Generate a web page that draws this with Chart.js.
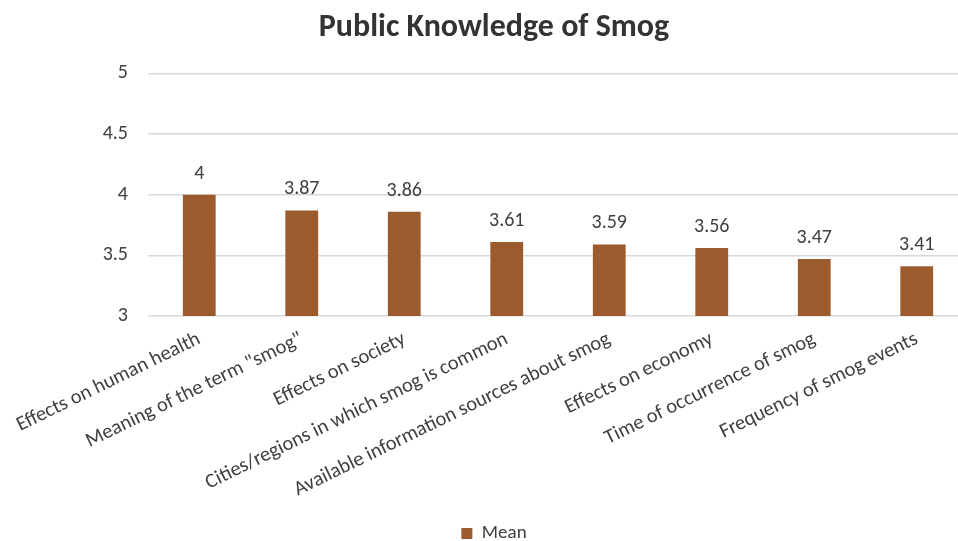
<!DOCTYPE html>
<html>
<head>
<meta charset="utf-8">
<script src="https://cdn.jsdelivr.net/npm/chart.js@4"></script>
<style>
  html, body { margin: 0; padding: 0; background: #fff; overflow: hidden; }
  #wrap { width: 988px; height: 541px; position: relative; }
</style>
</head>
<body>
<div id="wrap"><canvas id="chart"></canvas></div>
<script>
const categories = [
  'Effects on human health',
  'Meaning of the term "smog"',
  'Effects on society',
  'Cities/regions in which smog is common',
  'Available information sources about smog',
  'Effects on economy',
  'Time of occurrence of smog',
  'Frequency of smog events'
];
const meanValues = [4, 3.87, 3.86, 3.61, 3.59, 3.56, 3.47, 3.41];
const seriesName = 'Mean';
const yTicks = [3, 3.5, 4, 4.5, 5];

const FONT = "Carlito, 'Open Sans', sans-serif";
const BAR = '#9b5b2c';
const TEXT = '#404040';

// Value labels above each bar
const valueLabels = {
  id: 'valueLabels',
  afterDatasetsDraw(chart) {
    const ctx = chart.ctx;
    const meta = chart.getDatasetMeta(0);
    ctx.save();
    ctx.font = "20px " + FONT;
    ctx.fillStyle = TEXT;
    ctx.textAlign = 'center';
    ctx.textBaseline = 'alphabetic';
    meta.data.forEach((bar, i) => {
      ctx.fillText(String(meanValues[i]), bar.x, bar.y - 16);
    });
    ctx.restore();
  }
};

new Chart(document.getElementById('chart'), {
  type: 'bar',
  data: {
    labels: categories,
    datasets: [{
      label: seriesName,
      data: meanValues,
      backgroundColor: BAR,
      borderWidth: 0,
      barPercentage: 0.64,
      categoryPercentage: 0.5
    }]
  },
  options: {
    responsive: true,
    maintainAspectRatio: false,
    animation: false,
    layout: { padding: { left: 20, right: 20, top: 5, bottom: -12 } },
    plugins: {
      title: {
        display: true,
        text: 'Public Knowledge of Smog',
        color: '#333333',
        font: { family: FONT, size: 32, weight: 'bold' },
        padding: { top: 4, bottom: 26 }
      },
      legend: {
        position: 'bottom',
        labels: {
          color: TEXT,
          font: { family: FONT, size: 19 },
          boxWidth: 11,
          boxHeight: 11,
          padding: 4
        }
      },
      tooltip: { enabled: false }
    },
    scales: {
      y: {
        min: 3,
        max: 5,
        afterBuildTicks(scale) { scale.ticks = yTicks.map(v => ({ value: v })); },
        afterFit(scale) { scale.width = 128; },
        border: { display: false },
        grid: { color: '#d9d9d9', lineWidth: 1.5, drawTicks: false },
        ticks: {
          color: TEXT,
          font: { family: FONT, size: 20 },
          padding: 20,
          callback: (v) => String(v)
        }
      },
      x: {
        afterFit(scale) { scale.height = 204; },
        border: { display: false },
        grid: { display: false },
        ticks: {
          color: TEXT,
          font: { family: FONT, size: 20.5 },
          minRotation: 26,
          maxRotation: 26,
          autoSkip: false,
          padding: 3
        }
      }
    }
  },
  plugins: [valueLabels]
});
</script>
</body>
</html>
